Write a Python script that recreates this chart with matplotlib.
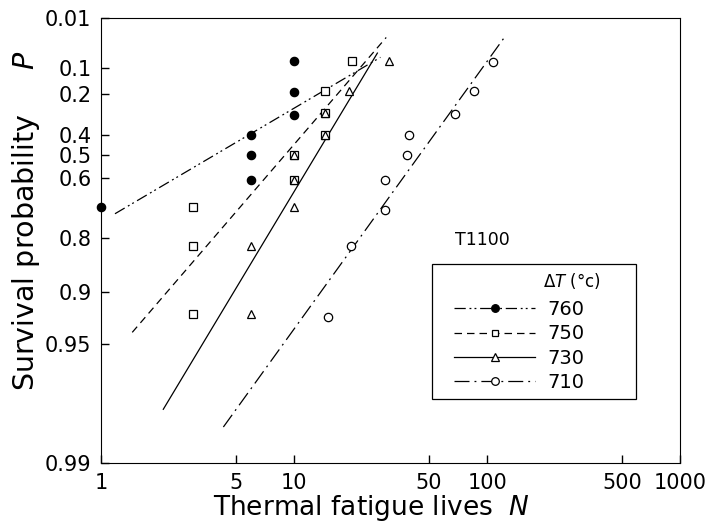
import numpy as np
import matplotlib
matplotlib.use('Agg')
import matplotlib.pyplot as plt
from matplotlib.lines import Line2D
from matplotlib.patches import Rectangle

# values, one group per temperature range dT
labels = ['760', '750', '730', '710']

n_760 = [1, 6, 6, 6, 10, 10, 10]
p_760 = [0.71, 0.40, 0.50, 0.61, 0.08, 0.19, 0.30]

n_750 = [3, 3, 3, 10, 10, 14.5, 14.5, 14.5, 20]
p_750 = [0.71, 0.82, 0.925, 0.50, 0.61, 0.29, 0.40, 0.185, 0.08]

n_730 = [6, 6, 10, 10, 10, 14.5, 14.5, 19.3, 31]
p_730 = [0.925, 0.82, 0.71, 0.61, 0.50, 0.40, 0.29, 0.185, 0.078]

n_710 = [15, 19.7, 29.4, 29.4, 38.5, 39.4, 68, 86, 107]
p_710 = [0.928, 0.82, 0.72, 0.61, 0.50, 0.40, 0.295, 0.187, 0.082]

# fitted weibull lines: shape m, characteristic life N0, drawn N range
shape_m = [0.68, 1.34, 1.92, 1.60]
char_n0 = [6.6, 11.75, 15.7, 56.0]
line_from = [1.18, 1.45, 2.1, 4.3]
line_to = [28, 30, 27, 123]

x_ticks = [1, 5, 10, 50, 100, 500, 1000]
y_ticks = [0.01, 0.1, 0.2, 0.4, 0.5, 0.6, 0.8, 0.9, 0.95, 0.99]
y_ticklabels = ['0.01', '0.1', '0.2', '0.4', '0.5', '0.6', '0.8', '0.9', '0.95', '0.99']


def weib(p):
    p = np.clip(np.asarray(p, dtype=float), 1e-6, 1 - 1e-9)
    return -np.log(np.log(1.0 / p))


def weib_inv(y):
    return np.exp(-np.exp(-np.asarray(y, dtype=float)))


data_n = [n_760, n_750, n_730, n_710]
data_p = [p_760, p_750, p_730, p_710]
markers = ['o', 's', '^', 'o']
msizes = [6, 5.5, 5.8, 6]
faces = ['black', 'white', 'white', 'white']
styles = [(0, (9, 3, 1.5, 2.5, 1.5, 3)), (0, (6, 4)), '-', (0, (12, 4, 1.5, 4))]

fig = plt.figure(figsize=(7.07, 5.23), dpi=100)
ax = fig.add_axes([0.143, 0.115, 0.819, 0.851])
ax.set_xscale('log')
ax.set_yscale('function', functions=(weib, weib_inv))

handles = []
for i in range(4):
    nn = np.geomspace(line_from[i], line_to[i], 100)
    pp = np.exp(-(nn / char_n0[i]) ** shape_m[i])
    ax.plot(nn, pp, color='black', lw=0.9, linestyle=styles[i])
    ax.plot(data_n[i], data_p[i], linestyle='none', marker=markers[i],
            ms=msizes[i], mfc=faces[i], mec='black', mew=0.9, clip_on=False, zorder=3 + i)
    handles.append(Line2D([], [], color='black', lw=0.9, linestyle=styles[i],
                          marker=markers[i], ms=msizes[i] - 0.5, mfc=faces[i], mec='black', mew=0.9))

ax.set_xlim(1, 1000)
ax.set_ylim(0.99, 0.01)
ax.set_xticks(x_ticks)
ax.set_xticklabels([str(v) for v in x_ticks])
ax.xaxis.set_minor_locator(matplotlib.ticker.NullLocator())
ax.set_yticks(y_ticks)
ax.set_yticklabels(y_ticklabels)
ax.yaxis.set_minor_locator(matplotlib.ticker.NullLocator())
ax.tick_params(direction='in', length=6, width=1, labelsize=15, pad=7)

ax.set_xlabel('Thermal fatigue lives  $\\mathit{N}$', fontsize=19, labelpad=0)
ax.xaxis.label.set_x(0.467)
ax.set_ylabel('Survival probability     $\\mathit{P}$', fontsize=20.5, labelpad=2)
ax.yaxis.label.set_y(0.544)

ax.text(0.611, 0.50, 'T1100', transform=ax.transAxes, fontsize=12.5, ha='left', va='center')

# legend box drawn separately so its size matches the original
ax.add_patch(Rectangle((0.572, 0.144), 0.352, 0.303, transform=ax.transAxes,
                       fill=False, edgecolor='black', lw=0.9, zorder=6))
ax.text(0.763, 0.408, '$\\Delta\\mathit{T}$ (°c)', transform=ax.transAxes,
        fontsize=12, ha='left', va='center')
leg = ax.legend(handles, labels, loc='upper left', bbox_to_anchor=(0.609, 0.366),
                borderaxespad=0, fontsize=14, handlelength=4.2, numpoints=1,
                frameon=False, labelspacing=0.28, borderpad=0, handletextpad=0.6)

fig.savefig('out.png', dpi=100)
